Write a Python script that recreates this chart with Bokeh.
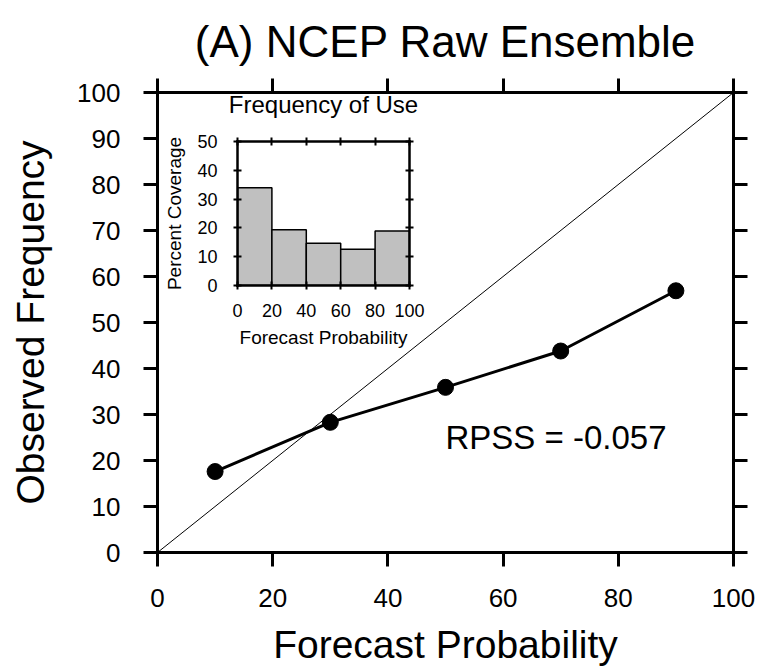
from bokeh.plotting import figure
from bokeh.models import Range1d, FixedTicker, LinearAxis, Label, GridBox, ColumnDataSource
from bokeh.embed import file_html
from bokeh.resources import INLINE

# ---------------- data ----------------
forecast_prob = [10, 30, 50, 70, 90]
observed_freq = [17.6, 28.3, 35.9, 43.8, 56.9]
diag_x = [0, 100]
diag_y = [0, 100]

hist_left = [0, 20, 40, 60, 80]
hist_right = [20, 40, 60, 80, 100]
percent_coverage = [33.9, 19.4, 14.7, 12.6, 18.9]

main_xticks = [0, 20, 40, 60, 80, 100]
main_yticks = [0, 10, 20, 30, 40, 50, 60, 70, 80, 90, 100]
inset_xticks = [0, 20, 40, 60, 80, 100]
inset_yticks = [0, 10, 20, 30, 40, 50]

title_text = "(A) NCEP Raw Ensemble"
inset_title = "Frequency of Use"
rpss_text = "RPSS = -0.057"

FONT = "Liberation Sans"

# ---------------- main figure ----------------
p = figure(width=761, height=670, x_range=Range1d(0, 100), y_range=Range1d(0, 100),
           output_backend="svg", toolbar_location=None,
           min_border_left=157, min_border_right=28, min_border_top=92, min_border_bottom=118,
           title=title_text)
p.grid.visible = False
p.outline_line_color = None
p.title.text_font = FONT
p.title.text_font_size = "44px"
p.title.text_font_style = "normal"
p.title.align = "center"
p.title.text_color = "black"
p.title.standoff = 25

p.add_layout(LinearAxis(), "above")
p.add_layout(LinearAxis(), "right")


def style_main(ax, ticks, show_labels):
    ax.ticker = FixedTicker(ticks=ticks)
    ax.axis_line_width = 3
    ax.axis_line_color = "black"
    ax.axis_line_cap = "square"
    ax.major_tick_line_width = 3
    ax.major_tick_line_color = "black"
    ax.major_tick_out = 14
    ax.major_tick_in = 0
    ax.minor_tick_line_color = None
    ax.major_label_text_font = FONT
    ax.axis_label_text_font = FONT
    ax.axis_label_text_font_style = "normal"
    ax.axis_label_text_color = "black"
    ax.axis_label_text_font_size = "39px"
    if show_labels:
        ax.major_label_text_font_size = "26px"
        ax.major_label_text_color = "black"
    else:
        ax.major_label_text_font_size = "1px"
        ax.major_label_text_color = None
        ax.major_label_standoff = 0


style_main(p.below[0], main_xticks, True)
style_main(p.left[0], main_yticks, True)
style_main(p.above[0], main_xticks, False)
style_main(p.right[0], main_yticks, False)
p.below[0].axis_label = "Forecast Probability"
p.left[0].axis_label = "Observed Frequency"
p.below[0].major_label_standoff = 22
p.below[0].axis_label_standoff = 13
p.left[0].major_label_standoff = 23
p.left[0].axis_label_standoff = 22

p.line(diag_x, diag_y, line_color="black", line_width=1)
src = ColumnDataSource(dict(x=forecast_prob, y=observed_freq))
p.line("x", "y", source=src, line_color="black", line_width=3)
p.scatter("x", "y", source=src, size=16, fill_color="black", line_color="black")

p.add_layout(Label(x=50, y=25, text=rpss_text, text_font=FONT, text_font_size="33px",
                   text_color="black", text_baseline="middle", text_align="left"))

# ---------------- inset figure ----------------
q = figure(width=279, height=295, x_range=Range1d(0, 100), y_range=Range1d(0, 50),
           output_backend="svg", toolbar_location=None, sizing_mode="fixed",
           min_border_left=87, min_border_right=20, min_border_top=81, min_border_bottom=70,
           title=inset_title)
q.grid.visible = False
q.outline_line_color = None
q.border_fill_alpha = 0
q.background_fill_color = "white"
q.title.text_font = FONT
q.title.text_font_size = "24px"
q.title.text_font_style = "normal"
q.title.align = "center"
q.title.text_color = "black"
q.title.standoff = 40

q.add_layout(LinearAxis(), "above")
q.add_layout(LinearAxis(), "right")


def style_inset(ax, ticks, show_labels):
    ax.ticker = FixedTicker(ticks=ticks)
    ax.axis_line_width = 2.5
    ax.axis_line_color = "black"
    ax.axis_line_cap = "square"
    ax.major_tick_line_width = 2
    ax.major_tick_line_color = "black"
    ax.major_tick_out = 4
    ax.major_tick_in = 4
    ax.minor_tick_line_color = None
    ax.major_label_text_font = FONT
    ax.axis_label_text_font = FONT
    ax.axis_label_text_font_style = "normal"
    ax.axis_label_text_color = "black"
    ax.axis_label_text_font_size = "19px"
    if show_labels:
        ax.major_label_text_font_size = "18px"
        ax.major_label_text_color = "black"
    else:
        ax.major_label_text_font_size = "1px"
        ax.major_label_text_color = None
        ax.major_label_standoff = 0


style_inset(q.below[0], inset_xticks, True)
style_inset(q.left[0], inset_yticks, True)
style_inset(q.above[0], inset_xticks, False)
style_inset(q.right[0], inset_yticks, False)
q.below[0].axis_label = "Forecast Probability"
q.left[0].axis_label = "Percent Coverage"
q.below[0].major_label_standoff = 14
q.below[0].axis_label_standoff = 7
q.left[0].major_label_standoff = 16
q.left[0].axis_label_standoff = 9

q.quad(left=hist_left, right=hist_right, bottom=0, top=percent_coverage,
       fill_color="#c0c0c0", line_color="black", line_width=1.5)

layout = GridBox(children=[(p, 0, 0, 3, 3), (q, 1, 1)],
                 rows=["60px", "295px", "auto"], cols=["150px", "279px", "auto"])

with open("out.html", "w") as f:
    f.write(file_html(layout, INLINE))
